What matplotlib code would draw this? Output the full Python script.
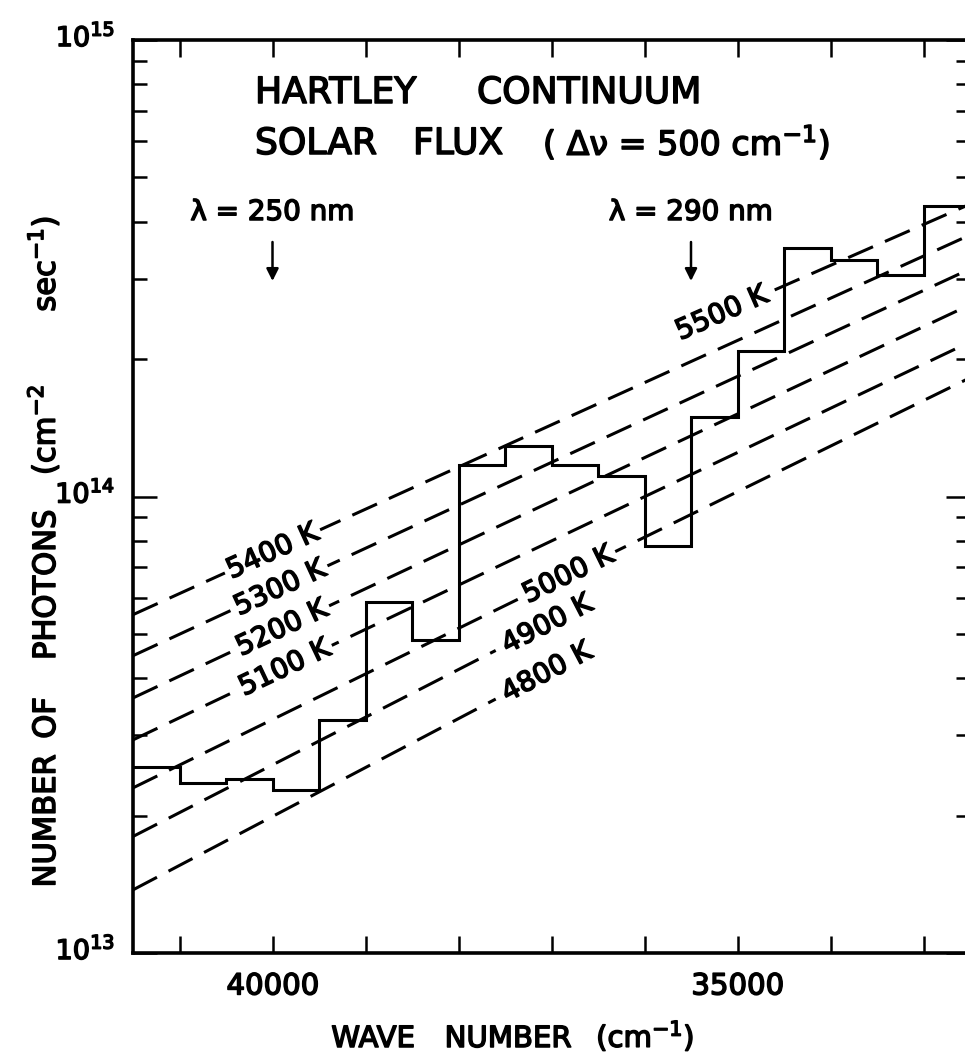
import math
import numpy as np
import matplotlib
matplotlib.use("Agg")
import matplotlib.pyplot as plt
import matplotlib.transforms as mtransforms
import matplotlib.patheffects as pe
from matplotlib.ticker import FixedLocator, FixedFormatter, NullFormatter, LogLocator

plt.rcParams['font.family'] = ['DejaVu Sans']
plt.rcParams['mathtext.fontset'] = 'dejavusans'

# ---- data -------------------------------------------------------------
# 500 cm^-1 wide spectral intervals, high to low wave number (cm^-1)
bin_edges = [41500, 41000, 40500, 40000, 39500, 39000, 38500, 38000, 37500,
             37000, 36500, 36000, 35500, 35000, 34500, 34000, 33500, 33000,
             32500]
# solar photon flux in each interval (photons cm^-2 s^-1)
photon_flux = [2.56e13, 2.36e13, 2.40e13, 2.27e13, 3.24e13, 5.86e13, 4.86e13,
               1.175e14, 1.287e14, 1.171e14, 1.108e14, 7.78e13, 1.49e14,
               2.08e14, 3.50e14, 3.29e14, 3.05e14, 4.33e14]

# black-body reference lines: label and end points (wave number, flux)
bb_labels = ["5500 K", "5400 K", "5300 K", "5200 K", "5100 K",
             "5000 K", "4900 K", "4800 K"]
bb_nu_start = [34600, 41500, 41500, 41500, 41500, 41500, 41500, 41500]
bb_flux_start = [2.835e14, 5.51e13, 4.48e13, 3.62e13, 2.93e13,
                 2.30e13, 1.80e13, 1.375e13]
bb_nu_end = [32500, 32500, 32500, 32500, 32500, 32500, 37600, 37600]
bb_flux_end = [4.37e14, 3.74e14, 3.15e14, 2.63e14, 2.18e14,
               1.82e14, 4.60e13, 3.60e13]

# axis ticks
xtick_values = [41000, 40000, 39000, 38000, 37000, 36000, 35000, 34000, 33000]
xtick_labels = ["", "40000", "", "", "", "", "35000", "", ""]

# wavelength markers (wave number, text)
marker_nu = [40000, 35500]
marker_text = [r"λ = 250 nm", r"λ = 290 nm"]

# ---- label placement along the lines -----------------------------------
# mode: 'gap' = centred on the line at nu, 'start' = before the line start,
# 'end' = after the line end
label_mode = ['start', 'gap', 'gap', 'gap', 'gap', 'gap', 'end', 'end']
label_nu = [None, 40000, 39920, 39900, 39870, 36820, None, None]

# heavier lettering
HEAVY = [pe.withStroke(linewidth=1.1, foreground='black')]

# ---- figure -------------------------------------------------------------
W, H, DPI = 965, 1056, 100
fig = plt.figure(figsize=(W / DPI, H / DPI), dpi=DPI)
ax = fig.add_axes([133 / W, (H - 953) / H, 837 / W, 913 / H])
ax.set_yscale('log')
ax.set_xlim(41500, 32500)
ax.set_ylim(1e13, 1e15)

LW = 2.2
for side in ('left', 'bottom', 'top', 'right'):
    ax.spines[side].set_linewidth(2.6)

# histogram of the solar flux
ax.stairs(photon_flux[::-1], bin_edges[::-1], color='black', linewidth=LW,
          baseline=None, zorder=4)

# black-body lines
dash = (0, (19.5 / LW, 9.4 / LW))
for i, lab in enumerate(bb_labels):
    n0, f0 = bb_nu_start[i], bb_flux_start[i]
    n1, f1 = bb_nu_end[i], bb_flux_end[i]
    ax.plot([n0, n1], [f0, f1], color='black', linewidth=LW,
            linestyle=dash, zorder=2)
    p0 = ax.transData.transform((n0, f0))
    p1 = ax.transData.transform((n1, f1))
    ang = math.degrees(math.atan2(p1[1] - p0[1], p1[0] - p0[0]))
    mode = label_mode[i]
    if mode == 'gap':
        nu = label_nu[i]
        t = (n0 - nu) / (n0 - n1)
        fl = f0 * (f1 / f0) ** t
        ax.text(nu, fl, lab, rotation=ang, rotation_mode='anchor',
                ha='center', va='center', fontsize=20, zorder=5,
                path_effects=HEAVY,
                bbox=dict(boxstyle='square,pad=0.12', fc='white', ec='none'))
    elif mode == 'start':
        ax.text(n0, f0, lab + " ", rotation=ang, rotation_mode='anchor',
                ha='right', va='center', fontsize=20, zorder=5,
                path_effects=HEAVY)
    else:
        ax.text(n1, f1, " " + lab, rotation=ang, rotation_mode='anchor',
                ha='left', va='center', fontsize=20, zorder=5,
                path_effects=HEAVY)

# ticks
ax.xaxis.set_major_locator(FixedLocator(xtick_values))
ax.xaxis.set_major_formatter(FixedFormatter(xtick_labels))
ax.yaxis.set_major_locator(LogLocator(base=10, numticks=5))
ax.yaxis.set_minor_locator(LogLocator(base=10, subs=np.arange(2, 10), numticks=20))
ax.yaxis.set_minor_formatter(NullFormatter())
ax.tick_params(axis='x', which='major', direction='in', top=True, bottom=True,
               length=12, width=1.8, labelsize=21, pad=14)
ax.tick_params(axis='y', which='major', direction='in', left=True, right=True,
               length=17, width=1.8, labelsize=19.5, pad=13)
ax.tick_params(axis='y', which='minor', direction='in', left=True, right=True,
               length=10, width=1.8)
shift = mtransforms.ScaledTranslation(0, 5 / DPI, fig.dpi_scale_trans)
for lbl in ax.get_yticklabels():
    lbl.set_transform(lbl.get_transform() + shift)
    lbl.set_path_effects(HEAVY)
for lbl in ax.get_xticklabels():
    lbl.set_path_effects(HEAVY)


def fx(x):
    return x / W


def fy(y):
    return 1 - y / H


def put(x, y, s, **kw):
    kw.setdefault('path_effects', HEAVY)
    return fig.text(fx(x), fy(y), s, **kw)


# title block
put(255, 103, "HARTLEY", fontsize=26, ha='left', va='baseline')
put(477, 103, "CONTINUUM", fontsize=26, ha='left', va='baseline')
put(255, 154, "SOLAR", fontsize=26, ha='left', va='baseline')
put(413, 154, "FLUX", fontsize=26, ha='left', va='baseline')
put(543, 155, r"( Δν = 500 cm$^{-1}$)", fontsize=24, ha='left', va='baseline')

# wavelength markers
blend = mtransforms.blended_transform_factory(ax.transData, ax.transAxes)
for nu, txt in zip(marker_nu, marker_text):
    ax.text(nu, (953 - 212) / 913, txt, transform=blend, fontsize=20,
            ha='center', va='center', path_effects=HEAVY)
    ax.annotate('', xy=(nu, (953 - 281) / 913), xycoords=blend,
                xytext=(nu, (953 - 242) / 913), textcoords=blend,
                arrowprops=dict(arrowstyle='-|>', color='black', lw=1.8,
                                mutation_scale=18, shrinkA=0, shrinkB=0))

# axis titles
put(373, 1047, "WAVE", fontsize=21, ha='center', va='baseline')
put(508, 1047, "NUMBER", fontsize=21, ha='center', va='baseline')
put(645, 1047, r"(cm$^{-1}$)", fontsize=21, ha='center', va='baseline')

YL_X = 55
for ypos, word in [(821, "NUMBER"), (718, "OF"), (585, "PHOTONS"),
                   (430, r"(cm$^{-2}$"), (264, r"sec$^{-1}$)")]:
    put(YL_X, ypos, word, fontsize=22, rotation=90, rotation_mode='anchor',
        ha='center', va='baseline')

fig.savefig("out.png", dpi=DPI)
